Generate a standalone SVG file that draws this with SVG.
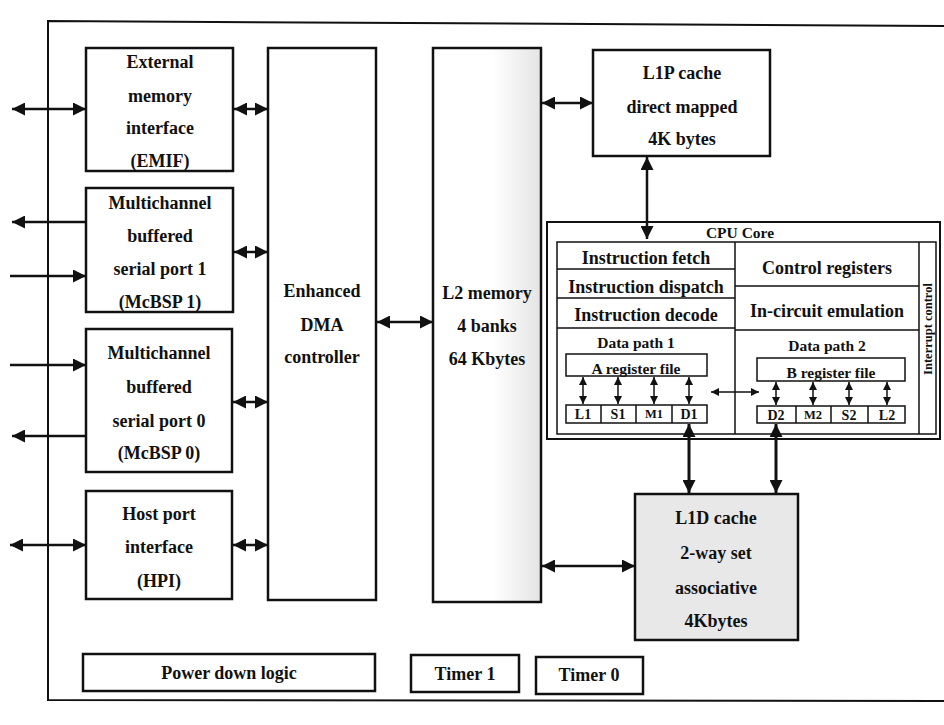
<svg xmlns="http://www.w3.org/2000/svg" width="944" height="725" viewBox="0 0 944 725">
<defs>
<marker id="ah" viewBox="0 0 10 10" refX="10" refY="5" markerWidth="15" markerHeight="13" markerUnits="userSpaceOnUse" orient="auto-start-reverse"><path d="M0,0 L10,5 L0,10 z" fill="#111"/></marker>
<marker id="as" viewBox="0 0 10 10" refX="10" refY="5" markerWidth="8" markerHeight="8" markerUnits="userSpaceOnUse" orient="auto-start-reverse"><path d="M0,0 L10,5 L0,10 z" fill="#111"/></marker>
<linearGradient id="l2g" x1="0" y1="0" x2="1" y2="0"><stop offset="0" stop-color="#fff"/><stop offset="0.55" stop-color="#fff"/><stop offset="1" stop-color="#e4e4e4"/></linearGradient>
</defs>
<style>
.box{fill:#fff;stroke:#111;stroke-width:2.5}
.thin{fill:none;stroke:#111;stroke-width:1.5}
.t{font-family:"Liberation Serif","Times New Roman",serif;font-weight:bold;font-size:18px;fill:#111;text-anchor:middle;dominant-baseline:central}
.s{font-size:15.5px}
.xs{font-size:14px}
.c{fill:none;stroke:#111;stroke-width:2.5}
.cs{fill:none;stroke:#111;stroke-width:1.5}
</style>
<rect width="944" height="725" fill="#fff"/>
<path d="M946,26 L48,21 L48,700 L946,701" fill="none" stroke="#111" stroke-width="2"/>

<g id="emif"><rect class="box" x="86" y="48" width="147" height="123"/>
<text class="t" x="160" y="62">External</text><text class="t" x="160" y="96">memory</text><text class="t" x="160" y="128">interface</text><text class="t" x="160" y="161">(EMIF)</text></g>
<g id="mcbsp1"><rect class="box" x="86" y="188" width="147" height="124"/>
<text class="t" x="160" y="203">Multichannel</text><text class="t" x="160" y="236">buffered</text><text class="t" x="160" y="269">serial port 1</text><text class="t" x="160" y="302">(McBSP 1)</text></g>
<g id="mcbsp0"><rect class="box" x="86" y="329" width="146" height="143"/>
<text class="t" x="159" y="353">Multichannel</text><text class="t" x="159" y="387">buffered</text><text class="t" x="159" y="421">serial port 0</text><text class="t" x="159" y="453">(McBSP 0)</text></g>
<g id="hpi"><rect class="box" x="86" y="491" width="146" height="108"/>
<text class="t" x="159" y="514">Host port</text><text class="t" x="159" y="547">interface</text><text class="t" x="159" y="581">(HPI)</text></g>
<g id="dma"><rect class="box" x="268" y="48" width="108" height="552"/>
<text class="t" x="322" y="291">Enhanced</text><text class="t" x="322" y="325">DMA</text><text class="t" x="322" y="357">controller</text></g>
<g id="l2"><rect class="box" x="433" y="48" width="108" height="554" style="fill:url(#l2g)"/>
<text class="t" x="487" y="293">L2 memory</text><text class="t" x="487" y="326">4 banks</text><text class="t" x="487" y="359">64 Kbytes</text></g>
<g id="l1p"><rect class="box" x="593" y="50" width="177" height="106"/>
<text class="t" x="682" y="73">L1P cache</text><text class="t" x="682" y="107">direct mapped</text><text class="t" x="682" y="139">4K bytes</text></g>
<g id="l1d"><rect class="box" x="635" y="494" width="163" height="146" style="fill:#e8e8e8"/>
<text class="t" x="716" y="518">L1D cache</text><text class="t" x="716" y="553">2-way set</text><text class="t" x="716" y="588">associative</text><text class="t" x="716" y="621">4Kbytes</text></g>
<g id="cpu">
<rect class="box" x="547" y="222" width="393" height="217" style="stroke-width:2"/>
<text class="t s" x="740" y="232">CPU Core</text>
<rect class="thin" x="557" y="242" width="379" height="192"/>
<path class="thin" d="M735,242 V434 M919,242 V434 M557,269 H735 M557,298 H735 M557,328 H735 M735,286 H919 M735,330 H919"/>
<text class="t" x="646" y="258">Instruction fetch</text>
<text class="t" x="646" y="287">Instruction dispatch</text>
<text class="t" x="646" y="315">Instruction decode</text>
<text class="t" x="827" y="268">Control registers</text>
<text class="t" x="827" y="311">In-circuit emulation</text>
<text class="t" x="928" y="329" transform="rotate(-90 928 329)" style="font-size:12.5px">Interrupt control</text>
</g>
<g id="dp1">
<text class="t s" x="636" y="342">Data path 1</text>
<rect class="thin" x="566" y="354" width="141" height="22"/>
<text class="t s" x="636" y="368">A register file</text>
<rect class="thin" x="566" y="405" width="141" height="18"/>
<path class="thin" d="M601,405 V423 M636,405 V423 M672,405 V423"/>
<text class="t xs" x="583" y="414">L1</text><text class="t xs" x="618" y="414">S1</text><text class="t xs" x="654" y="414" style="font-size:12.5px">M1</text><text class="t xs" x="689" y="414">D1</text>
</g>
<g id="dp2">
<text class="t s" x="827" y="345">Data path 2</text>
<rect class="thin" x="757" y="358" width="148" height="23"/>
<text class="t s" x="831" y="372">B register file</text>
<rect class="thin" x="757" y="406" width="148" height="17"/>
<path class="thin" d="M796,406 V423 M831,406 V423 M868,406 V423"/>
<text class="t xs" x="776" y="415">D2</text><text class="t xs" x="813" y="415" style="font-size:12.5px">M2</text><text class="t xs" x="849" y="415">S2</text><text class="t xs" x="887" y="415">L2</text>
</g>
<g id="power-down"><rect class="box" x="83" y="654" width="292" height="37"/><text class="t" x="229" y="673">Power down logic</text></g>
<g id="timer1"><rect class="box" x="411" y="655" width="108" height="37"/><text class="t" x="465" y="674">Timer 1</text></g>
<g id="timer0"><rect class="box" x="536" y="657" width="107" height="37"/><text class="t" x="589" y="675">Timer 0</text></g>

<g id="connectors">
<line class="c" x1="12" y1="109" x2="86" y2="109" marker-start="url(#ah)" marker-end="url(#ah)"/>
<line class="c" x1="86" y1="222" x2="12" y2="222" marker-end="url(#ah)"/>
<line class="c" x1="10" y1="276" x2="86" y2="276" marker-end="url(#ah)"/>
<line class="c" x1="10" y1="365" x2="86" y2="365" marker-end="url(#ah)"/>
<line class="c" x1="86" y1="436" x2="12" y2="436" marker-end="url(#ah)"/>
<line class="c" x1="10" y1="545" x2="86" y2="545" marker-start="url(#ah)" marker-end="url(#ah)"/>
<line class="c" x1="234" y1="109" x2="268" y2="109" marker-start="url(#ah)" marker-end="url(#ah)"/>
<line class="c" x1="234" y1="252" x2="268" y2="252" marker-start="url(#ah)" marker-end="url(#ah)"/>
<line class="c" x1="233" y1="402" x2="268" y2="402" marker-start="url(#ah)" marker-end="url(#ah)"/>
<line class="c" x1="233" y1="545" x2="268" y2="545" marker-start="url(#ah)" marker-end="url(#ah)"/>
<line class="c" x1="377" y1="322" x2="433" y2="322" marker-start="url(#ah)" marker-end="url(#ah)"/>
<line class="c" x1="542" y1="103" x2="593" y2="103" marker-start="url(#ah)" marker-end="url(#ah)"/>
<line class="c" x1="542" y1="566" x2="635" y2="566" marker-start="url(#ah)" marker-end="url(#ah)"/>
<line class="c" x1="647" y1="157" x2="647" y2="239" marker-start="url(#ah)" marker-end="url(#ah)"/>
<line class="c" x1="689" y1="424" x2="689" y2="493" marker-start="url(#ah)" marker-end="url(#ah)" style="stroke-width:3"/>
<line class="c" x1="776" y1="424" x2="776" y2="493" marker-start="url(#ah)" marker-end="url(#ah)" style="stroke-width:3"/>
<line class="cs" x1="583" y1="377" x2="583" y2="404" marker-start="url(#as)" marker-end="url(#as)"/>
<line class="cs" x1="618" y1="377" x2="618" y2="404" marker-start="url(#as)" marker-end="url(#as)"/>
<line class="cs" x1="654" y1="377" x2="654" y2="404" marker-start="url(#as)" marker-end="url(#as)"/>
<line class="cs" x1="689" y1="377" x2="689" y2="404" marker-start="url(#as)" marker-end="url(#as)"/>
<line class="cs" x1="776" y1="382" x2="776" y2="405" marker-start="url(#as)" marker-end="url(#as)"/>
<line class="cs" x1="813" y1="382" x2="813" y2="405" marker-start="url(#as)" marker-end="url(#as)"/>
<line class="cs" x1="849" y1="382" x2="849" y2="405" marker-start="url(#as)" marker-end="url(#as)"/>
<line class="cs" x1="887" y1="382" x2="887" y2="405" marker-start="url(#as)" marker-end="url(#as)"/>
<line class="cs" x1="711" y1="392" x2="759" y2="392" marker-start="url(#as)" marker-end="url(#as)"/>
</g>
</svg>
